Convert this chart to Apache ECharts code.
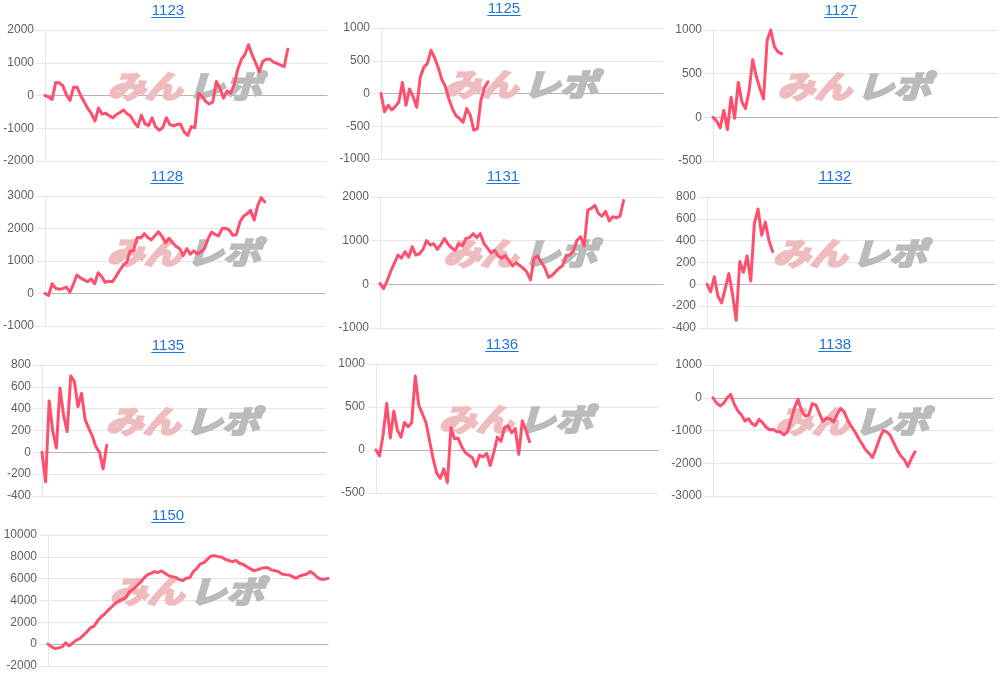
<!DOCTYPE html>
<html>
<head>
<meta charset="utf-8">
<script src="https://cdn.jsdelivr.net/npm/echarts@6/dist/echarts.min.js"></script>
<style>
html,body{margin:0;padding:0;background:#fff;}
#c{width:1002px;height:675px;}
</style>
</head>
<body>
<div id="c"></div>
<script>
// ---- data ----
const names = ['1123','1125','1127','1128','1131','1132','1135','1136','1138','1150'];

const s1123 = [0,-40,-120,400,380,300,20,-150,250,250,0,-200,-400,-550,-780,-380,-570,-540,-620,-680,-580,-520,-440,-560,-630,-820,-960,-600,-860,-920,-680,-960,-1060,-980,-680,-890,-930,-880,-880,-1120,-1220,-950,-980,70,-20,-180,-260,-200,430,220,-80,140,70,330,800,1100,1250,1550,1250,1000,720,1040,1110,1110,1020,980,930,880,1410];
const s1125 = [0,-280,-180,-250,-200,-130,170,-180,70,-50,-210,250,400,460,660,550,400,220,110,-80,-230,-340,-380,-440,-230,-330,-560,-540,-100,90,180];
const s1127 = [0,-40,-120,80,-140,230,-10,400,180,100,300,660,470,330,210,880,1000,810,750,730];
const s1128 = [0,-60,300,160,130,150,200,40,280,570,480,420,360,450,300,640,520,340,380,360,520,700,860,950,1300,1320,1720,1710,1840,1720,1650,1780,1900,1760,1560,1700,1560,1450,1380,1170,1380,1210,1310,1220,1280,1380,1680,1890,1820,1770,2000,2010,1950,1790,1810,2200,2380,2450,2560,2260,2700,2950,2820];
const s1131 = [20,-100,80,300,480,670,600,750,620,860,670,700,800,1000,900,930,800,910,1050,920,830,780,930,880,1050,1070,1160,1070,1160,940,830,720,780,650,600,660,540,420,500,430,370,280,100,600,650,510,380,160,200,290,370,430,660,670,770,1010,1090,880,1700,1740,1810,1620,1560,1670,1450,1550,1520,1560,1920];
const s1132 = [0,-70,70,-110,-170,-40,100,-90,-330,210,110,260,30,560,690,450,570,400,300];
const s1135 = [0,-270,470,190,40,590,340,190,700,650,420,540,300,220,150,50,0,-150,65];
const s1136 = [0,-70,180,540,140,450,230,150,320,270,320,860,520,420,320,110,-100,-270,-330,-220,-380,260,130,140,40,-30,-60,-90,-190,-60,-80,-40,-180,-30,150,100,260,280,200,250,-50,340,230,95];
const s1138 = [0,-160,-250,-170,0,100,-200,-400,-520,-710,-640,-790,-850,-660,-760,-900,-980,-970,-1040,-1040,-1130,-1050,-680,-300,-50,-400,-550,-530,-180,-220,-470,-720,-620,-640,-740,-520,-320,-430,-680,-870,-1030,-1230,-1400,-1580,-1690,-1830,-1550,-1250,-1000,-1040,-1150,-1380,-1600,-1780,-1890,-2100,-1850,-1650];
const s1150 = [0,-250,-400,-340,-250,120,-150,120,370,520,830,1130,1500,1650,2140,2510,2760,3120,3430,3740,3980,4100,4290,4810,5020,5330,5630,6030,6340,6490,6650,6550,6710,6490,6280,6190,6120,5940,5820,6030,6090,6650,6950,7350,7470,7780,8080,8110,8020,7960,7780,7660,7560,7660,7410,7320,7110,6920,6740,6800,6920,7010,7010,6800,6740,6650,6430,6370,6340,6190,6030,6250,6340,6430,6650,6430,6120,5940,5940,6030];

const yMin  = [-2000,-1000,-500,-1000,-1000,-400,-400,-500,-3000,-2000];
const yMax  = [ 2000, 1000,1000, 3000, 2000, 800, 800,1000, 1000,10000];
const yStep = [ 1000,  500, 500, 1000, 1000, 200, 200, 500, 1000, 2000];

const days = Array.from({length: 80}, (_, i) => String(i + 1));

const seriesData = [s1123,s1125,s1127,s1128,s1131,s1132,s1135,s1136,s1138,s1150];

// ---- layout (pixels) ----
const layout = [
  {l:45,  r:327, t:30,  b:161, tx:168, ty:11},
  {l:381, r:663, t:28,  b:159, tx:504, ty:9},
  {l:713, r:998, t:30,  b:161, tx:841, ty:11},
  {l:45,  r:325, t:196, b:326, tx:167, ty:177},
  {l:380, r:663, t:197, b:328, tx:503, ty:177},
  {l:707, r:995, t:197, b:328, tx:835, ty:177},
  {l:42,  r:326, t:365, b:496, tx:168, ty:346},
  {l:376, r:658, t:364, b:493, tx:502, ty:345},
  {l:713, r:993, t:365, b:496, tx:835, ty:345},
  {l:48,  r:328, t:535, b:666, tx:168, ty:516}
];

const LINE = '#ff4f6f';
const LINK = '#1e74d8';
const GRID = '#e6e6e6';
const ZERO = '#b4b4b4';
const FONT = '"Liberation Sans", Arial, Helvetica, sans-serif';
const WM_FONT = 'italic bold 31px "Noto Sans CJK JP"';

const grids = [], xAxes = [], yAxes = [], series = [], graphics = [];

names.forEach((nm, i) => {
  const L = layout[i];
  grids.push({left: L.l, top: L.t, width: L.r - L.l, height: L.b - L.t, containLabel: false});
  xAxes.push({
    type: 'category', gridIndex: i, data: days, boundaryGap: false,
    axisLine: {show: true, onZero: true, lineStyle: {color: ZERO, width: 1}},
    axisTick: {show: false}, axisLabel: {show: false}, splitLine: {show: false}
  });
  yAxes.push({
    type: 'value', gridIndex: i, min: yMin[i], max: yMax[i], interval: yStep[i],
    axisLine: {show: true, lineStyle: {color: GRID, width: 1}},
    axisTick: {show: true, length: 9, lineStyle: {color: GRID}},
    axisLabel: {color: '#5f5f5f', fontSize: 12, fontFamily: FONT, margin: 11,
                formatter: v => String(v)},
    splitLine: {show: true, lineStyle: {color: GRID, width: 1}}
  });
  series.push({
    type: 'line', xAxisIndex: i, yAxisIndex: i, data: seriesData[i],
    showSymbol: false, symbol: 'none', clip: false, z: 5,
    lineStyle: {color: LINE, width: 3, join: 'round', cap: 'round'},
    itemStyle: {color: LINE}
  });
  // title link
  const tw = nm.length * 0.556 * 15;
  graphics.push({
    type: 'text', x: L.tx, y: L.ty, z: 10,
    style: {text: nm, fill: LINK, font: '15px ' + FONT, align: 'center', verticalAlign: 'middle'}
  });
  graphics.push({
    type: 'line', z: 10,
    shape: {x1: L.tx - tw / 2, y1: L.ty + 6.5, x2: L.tx + tw / 2, y2: L.ty + 6.5},
    style: {stroke: LINK, lineWidth: 1}
  });
  // watermark
  const cx = L.l + 0.49 * (L.r - L.l);
  const cy = L.t + 0.43 * (L.b - L.t);
  graphics.push({
    type: 'group', x: cx, y: cy, z: 1, silent: true,
    children: [
      {type: 'text', x: -1, y: 0, scaleX: 1.2, z: 1,
       style: {text: 'みん', fill: '#eebcbe', stroke: '#eebcbe', lineWidth: 2.5,
               font: WM_FONT, align: 'right', verticalAlign: 'middle'}},
      {type: 'text', x: 4, y: 0, scaleX: 1.2, z: 1,
       style: {text: 'レポ', fill: '#bbbbbb', stroke: '#bbbbbb', lineWidth: 2.5,
               font: WM_FONT, align: 'left', verticalAlign: 'middle'}}
    ]
  });
});

const chart = echarts.init(document.getElementById('c'), null, {renderer: 'canvas'});
chart.setOption({
  animation: false,
  backgroundColor: '#fff',
  grid: grids, xAxis: xAxes, yAxis: yAxes, series: series,
  graphic: {elements: graphics}
});
</script>
</body>
</html>
